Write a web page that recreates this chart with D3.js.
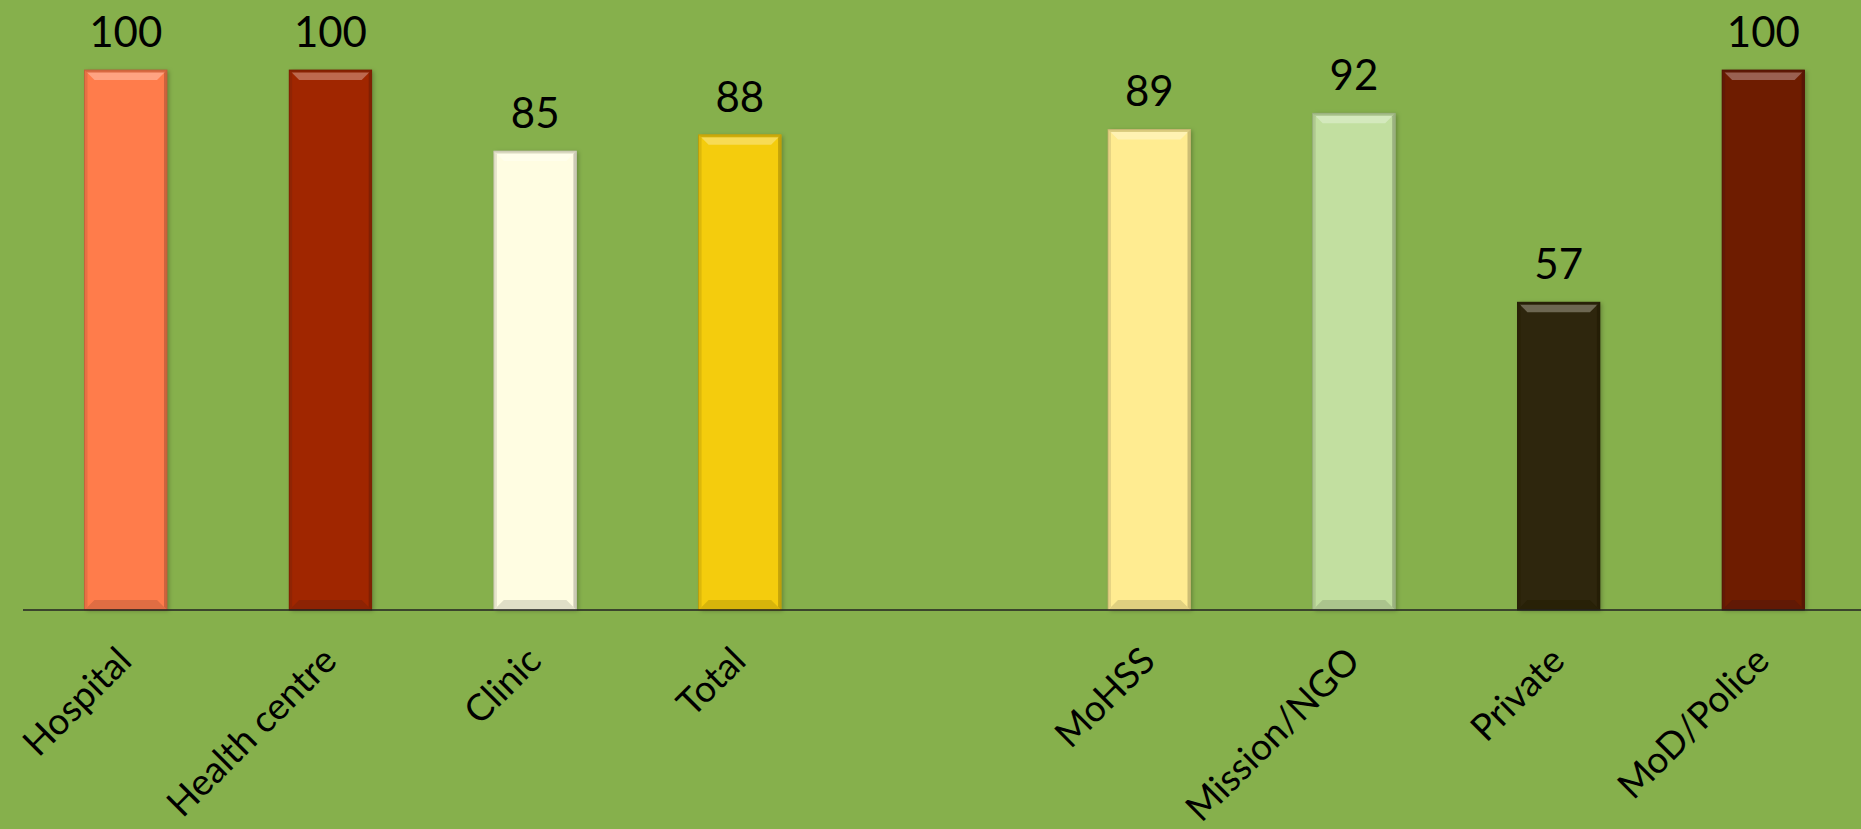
<!DOCTYPE html>
<html>
<head>
<meta charset="utf-8">
<script src="https://cdn.jsdelivr.net/npm/d3@7"></script>
<style>
  html, body { margin: 0; padding: 0; background: #86B04C; overflow: hidden; }
  svg { display: block; }
</style>
</head>
<body>
<svg id="chart" width="1861" height="829"></svg>
<script>
const categories = ["Hospital", "Health centre", "Clinic", "Total", "", "MoHSS", "Mission/NGO", "Private", "MoD/Police"];
const values = [100, 100, 85, 88, null, 89, 92, 57, 100];
const colors = ["#FF7C4C", "#A02804", "#FFFDE2", "#F4CC0C", null, "#FFEC91", "#C2DFA0", "#2E2608", "#6E1C06"];

const W = 1861, H = 829;
const svg = d3.select("#chart");
svg.append("rect").attr("width", W).attr("height", H).attr("fill", "#86B04C");

const x = d3.scaleBand()
  .domain(categories.map((c, i) => i))
  .range([23.4, 23.4 + 204.7 * 9])
  .paddingInner(0.597)
  .paddingOuter(0.2985);
const y = d3.scaleLinear().domain([0, 100]).range([610, 70]);

const data = categories.map((c, i) => ({ i, c, v: values[i], col: colors[i] })).filter(d => d.v != null);

const defs = svg.append("defs");
const sh = defs.append("filter").attr("id", "shadow").attr("x", "-20%").attr("y", "-10%").attr("width", "140%").attr("height", "120%");
sh.append("feDropShadow").attr("dx", 2).attr("dy", 1).attr("stdDeviation", 2).attr("flood-color", "#000").attr("flood-opacity", 0.25);

const bw = x.bandwidth();
const bev = 10, side = 3;
const g = svg.append("g");
const bars = g.selectAll("g.bar").data(data).enter().append("g").attr("class", "bar");

bars.append("rect")
  .attr("x", d => x(d.i)).attr("y", d => y(d.v))
  .attr("width", bw).attr("height", d => y(0) - y(d.v))
  .attr("fill", d => d.col).attr("filter", "url(#shadow)");

// top bevel
bars.append("path")
  .attr("d", d => {
    const x0 = x(d.i), x1 = x0 + bw, t = y(d.v);
    return `M${x0},${t}L${x1},${t}L${x1 - bev},${t + bev}L${x0 + bev},${t + bev}Z`;
  })
  .attr("fill", d => d3.interpolateRgb(d.col, "#fff")(0.3));
bars.append("rect")
  .attr("x", d => x(d.i)).attr("y", d => y(d.v))
  .attr("width", bw).attr("height", 2.5)
  .attr("fill", d => d3.interpolateRgb(d.col, "#000")(0.15));
// bottom bevel
bars.append("path")
  .attr("d", d => {
    const x0 = x(d.i), x1 = x0 + bw, b = y(0);
    return `M${x0},${b}L${x1},${b}L${x1 - bev},${b - bev}L${x0 + bev},${b - bev}Z`;
  })
  .attr("fill", d => d3.interpolateRgb(d.col, "#000")(0.12));
// sides
bars.append("path")
  .attr("d", d => {
    const x0 = x(d.i), t = y(d.v), b = y(0);
    return `M${x0},${t}L${x0 + side},${t + side}L${x0 + side},${b - side}L${x0},${b}Z`;
  })
  .attr("fill", d => d3.interpolateRgb(d.col, "#000")(0.1));
bars.append("path")
  .attr("d", d => {
    const x1 = x(d.i) + bw, t = y(d.v), b = y(0);
    return `M${x1},${t}L${x1 - side},${t + side}L${x1 - side},${b - side}L${x1},${b}Z`;
  })
  .attr("fill", d => d3.interpolateRgb(d.col, "#000")(0.2));
bars.append("rect")
  .attr("x", d => x(d.i)).attr("y", d => y(d.v))
  .attr("width", bw).attr("height", d => y(0) - y(d.v))
  .attr("fill", "none").attr("stroke", d => d3.interpolateRgb(d.col, "#000")(0.25)).attr("stroke-width", 0.8);

// value labels
g.selectAll("text.val").data(data).enter().append("text")
  .attr("class", "val")
  .attr("x", d => x(d.i) + bw / 2)
  .attr("y", d => y(d.v) - 23)
  .attr("text-anchor", "middle")
  .attr("font-family", "Lato, 'Open Sans', sans-serif")
  .attr("font-size", 42)
  .attr("fill", "#000")
  .text(d => d.v);

// axis
const axis = d3.axisBottom(x).tickSize(0).tickFormat(i => categories[i]);
const ax = svg.append("g").attr("transform", `translate(0,${y(0)})`).call(axis);
ax.select(".domain").attr("d", `M23,0H${W}`).attr("stroke", "#222").attr("stroke-width", 1.5);
ax.selectAll(".tick text")
  .attr("font-family", "Lato, 'Open Sans', sans-serif")
  .attr("font-size", 37)
  .attr("fill", "#000")
  .attr("text-anchor", "end")
  .attr("dy", 0)
  .attr("y", 0)
  .attr("transform", "translate(8,53) rotate(-45)");
</script>
</body>
</html>
